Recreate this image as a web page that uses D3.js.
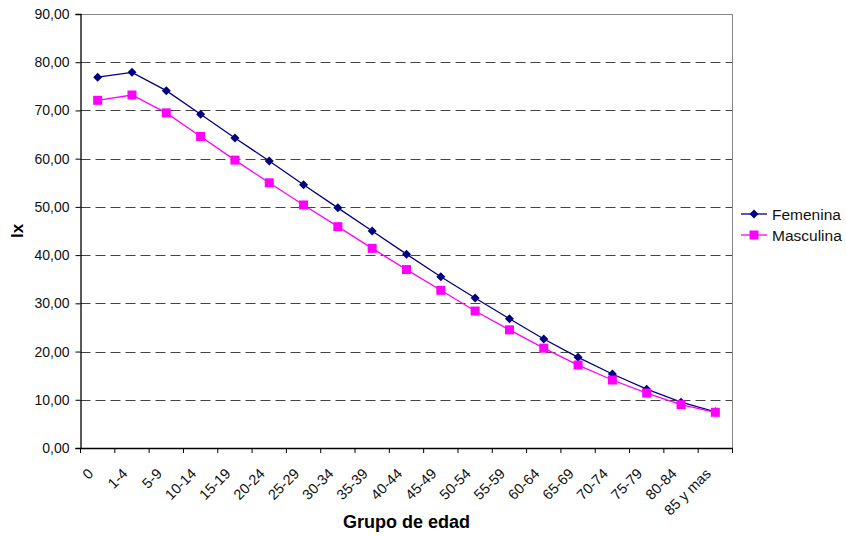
<!DOCTYPE html>
<html>
<head>
<meta charset="utf-8">
<script src="https://cdn.jsdelivr.net/npm/d3@7/dist/d3.min.js"></script>
<style>
  html, body { margin: 0; padding: 0; background: #fff; }
  svg { display: block; font-family: "Liberation Sans", Arial, sans-serif; }
</style>
</head>
<body>
<svg id="chart" width="846" height="536"></svg>
<script>
// Grupos de edad
const categories = ["0", "1-4", "5-9", "10-14", "15-19", "20-24", "25-29", "30-34", "35-39",
  "40-44", "45-49", "50-54", "55-59", "60-64", "65-69", "70-74", "75-79", "80-84", "85 y mas"];

// Esperanza de vida (lx) por sexo
const femenina = [76.9, 77.9, 74.1, 69.2, 64.3, 59.5, 54.6, 49.8, 45.0, 40.2, 35.5, 31.1, 26.8,
  22.6, 18.8, 15.35, 12.2, 9.5, 7.5];
const masculina = [72.1, 73.2, 69.5, 64.6, 59.7, 55.0, 50.4, 45.9, 41.4, 37.0, 32.7, 28.4, 24.5,
  20.7, 17.2, 14.1, 11.4, 9.0, 7.4];

const yTicks = [0, 10, 20, 30, 40, 50, 60, 70, 80, 90];

const series = [
  { name: "Femenina", values: femenina, color: "#000080", marker: "diamond" },
  { name: "Masculina", values: masculina, color: "#FF00FF", marker: "square" }
];

const svg = d3.select("#chart");
const plot = { left: 80.5, right: 732.5, top: 14, bottom: 448 };

const x = d3.scaleBand().domain(categories).range([plot.left, plot.right]).padding(0);
const y = d3.scaleLinear().domain([0, 90]).range([plot.bottom, plot.top]);
const fmt = v => d3.format(".2f")(v).replace(".", ",");

// Líneas de cuadrícula discontinuas
svg.append("g")
  .selectAll("line")
  .data(yTicks.filter(t => t > 0 && t < 90))
  .join("line")
  .attr("x1", plot.left)
  .attr("x2", plot.right)
  .attr("y1", d => Math.round(y(d)) + 0.5)
  .attr("y2", d => Math.round(y(d)) + 0.5)
  .attr("stroke", "#444")
  .attr("stroke-width", 1)
  .attr("stroke-dasharray", "10,5");

// Bordes superior y derecho del área de trazado
svg.append("line")
  .attr("x1", plot.left).attr("x2", plot.right)
  .attr("y1", Math.round(y(90)) + 0.5).attr("y2", Math.round(y(90)) + 0.5)
  .attr("stroke", "#888").attr("stroke-width", 1);
svg.append("line")
  .attr("x1", plot.right).attr("x2", plot.right)
  .attr("y1", plot.top).attr("y2", plot.bottom)
  .attr("stroke", "#888").attr("stroke-width", 1);

// Eje Y
const yAxis = svg.append("g")
  .attr("transform", `translate(${plot.left},0)`)
  .call(d3.axisLeft(y).tickValues(yTicks).tickFormat(fmt).tickSize(5).tickPadding(6));
yAxis.select(".domain").attr("stroke", "#000").attr("stroke-width", 1.3);
yAxis.selectAll(".tick line").attr("stroke", "#000");
yAxis.selectAll("text").attr("font-size", 14).attr("fill", "#111")
  .attr("font-family", "Liberation Sans, Arial, sans-serif");

// Eje X
const xAxis = svg.append("g")
  .attr("transform", `translate(0,${plot.bottom})`)
  .call(d3.axisBottom(x).tickSize(0).tickFormat(""));
xAxis.select(".domain").attr("stroke", "#000").attr("stroke-width", 1.3);
xAxis.selectAll(".tick").remove();

// Marcas de división entre categorías
const edges = categories.map(c => x(c)).concat([x(categories[categories.length - 1]) + x.bandwidth()]);
svg.append("g")
  .selectAll("line")
  .data(edges)
  .join("line")
  .attr("x1", d => d).attr("x2", d => d)
  .attr("y1", plot.bottom).attr("y2", plot.bottom + 5)
  .attr("stroke", "#000");

// Etiquetas de categorías rotadas
svg.append("g")
  .selectAll("text")
  .data(categories)
  .join("text")
  .attr("transform", d => `translate(${x(d) + x.bandwidth() / 2 - 7},${plot.bottom + 23}) rotate(-45)`)
  .attr("text-anchor", "end")
  .attr("dy", "0.35em")
  .attr("font-size", 14.5)
  .attr("fill", "#111")
  .text(d => d);

// Líneas y marcadores
const line = d3.line()
  .x((d, i) => x(categories[i]) + x.bandwidth() / 2)
  .y(d => y(d));

const diamond = s => `M0,${-s}L${s},0L0,${s}L${-s},0Z`;

series.forEach(s => {
  const g = svg.append("g");
  g.append("path")
    .datum(s.values)
    .attr("d", line)
    .attr("fill", "none")
    .attr("stroke", s.color)
    .attr("stroke-width", 1.3);
  const pts = g.selectAll("g.pt")
    .data(s.values)
    .join("g")
    .attr("transform", (d, i) => `translate(${x(categories[i]) + x.bandwidth() / 2},${y(d)})`);
  if (s.marker === "diamond") {
    pts.append("path").attr("d", diamond(4.5)).attr("fill", s.color);
  } else {
    pts.append("rect").attr("x", -4.5).attr("y", -4.5).attr("width", 9).attr("height", 9)
      .attr("fill", s.color);
  }
});

// Leyenda
const legend = svg.append("g");
series.forEach((s, i) => {
  const ly = 214 + i * 21;
  const lg = legend.append("g").attr("transform", `translate(741,${ly})`);
  lg.append("line").attr("x1", 0).attr("x2", 26).attr("y1", 0).attr("y2", 0)
    .attr("stroke", s.color).attr("stroke-width", 1.3);
  if (s.marker === "diamond") {
    lg.append("path").attr("d", diamond(4.5)).attr("transform", "translate(13,0)").attr("fill", s.color);
  } else {
    lg.append("rect").attr("x", 8.5).attr("y", -4.5).attr("width", 9).attr("height", 9).attr("fill", s.color);
  }
  lg.append("text").attr("x", 31).attr("y", 0).attr("dy", "0.36em")
    .attr("font-size", 15.5).attr("fill", "#111").text(s.name);
});

// Títulos de ejes
svg.append("text")
  .attr("x", (plot.left + plot.right) / 2)
  .attr("y", 528)
  .attr("text-anchor", "middle")
  .attr("font-size", 18)
  .attr("font-weight", "bold")
  .attr("fill", "#000")
  .text("Grupo de edad");

svg.append("text")
  .attr("transform", "translate(23,231) rotate(-90)")
  .attr("text-anchor", "middle")
  .attr("font-size", 17)
  .attr("font-weight", "bold")
  .attr("fill", "#000")
  .text("lx");
</script>
</body>
</html>
